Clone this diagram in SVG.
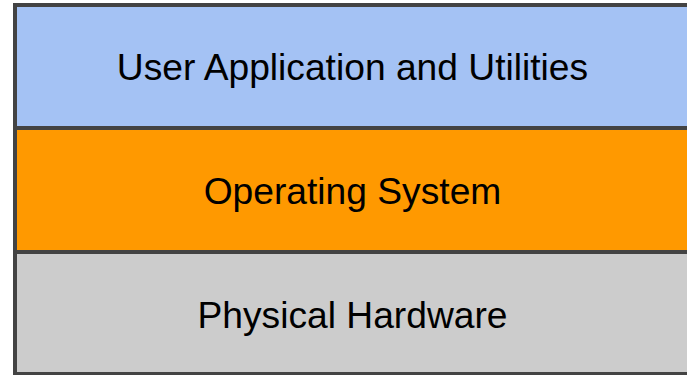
<svg xmlns="http://www.w3.org/2000/svg" width="687" height="375" viewBox="0 0 687 375">
  <style>
    .layer rect { stroke: #434343; stroke-width: 4; }
    .layer text { font-family: "Liberation Sans", Arial, sans-serif; font-size: 37.2px; fill: #000000; text-anchor: middle; }
  </style>
  <rect width="687" height="375" fill="#ffffff"/>
  <g id="hardware" class="layer">
    <rect x="15" y="252" width="680" height="122" fill="#cccccc"/>
    <text x="352.5" y="327.5">Physical Hardware</text>
  </g>
  <g id="os" class="layer">
    <rect x="15" y="128" width="680" height="124" fill="#ff9900"/>
    <text x="352.5" y="204">Operating System</text>
  </g>
  <g id="apps" class="layer">
    <rect x="15" y="5" width="680" height="123" fill="#a4c2f4"/>
    <text x="352.5" y="80">User Application and Utilities</text>
  </g>
</svg>
